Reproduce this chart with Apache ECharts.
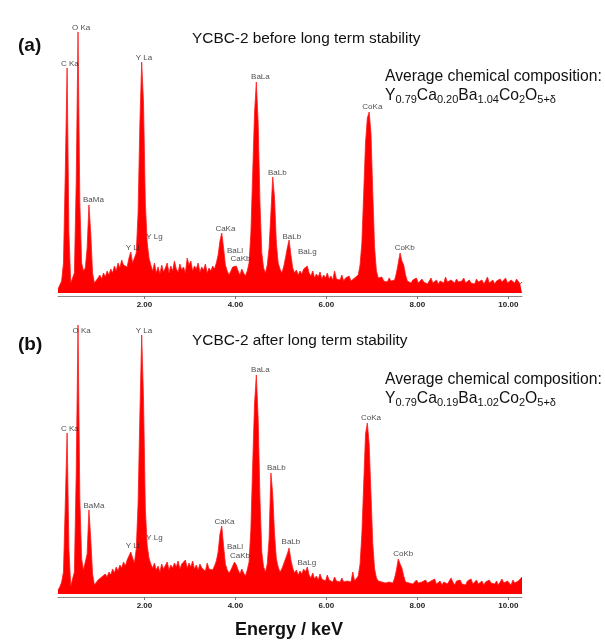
<!DOCTYPE html>
<html>
<head>
<meta charset="utf-8">
<script src="https://cdn.jsdelivr.net/npm/echarts@6/dist/echarts.min.js"></script>
<style>
html,body{margin:0;padding:0;background:#fff;}
#chart{width:605px;height:643px;}
</style>
</head>
<body>
<div id="chart"></div>
<script>
// Energy channels: start and spacing (keV)
const energyStart = 0.1;
const energyStep = 0.04;
const energyMin = 0.1;
const energyMax = 10.3;
const tickValues = [2, 4, 6, 8, 10];

// (a) before long term stability — counts (arbitrary units) per channel
const countsBefore = [
  4, 8, 12, 30, 120, 225, 60, 10, 8, 20,
  110, 261, 90, 30, 22, 25, 45, 88, 60, 20,
  10, 12, 15, 18, 14, 20, 16, 22, 18, 24,
  20, 27, 22, 30, 25, 33, 28, 30, 26, 35,
  41, 30, 28, 40, 80, 170, 231, 190, 90, 51,
  35, 28, 22, 30, 20, 26, 19, 28, 21, 25,
  30, 20, 27, 22, 32, 24, 21, 29, 23, 26,
  20, 35, 28, 32, 22, 27, 24, 30, 21, 26,
  23, 29, 20, 25, 22, 27, 24, 30, 38, 52,
  60, 45, 28, 22, 18, 20, 26, 28, 27, 22,
  18, 24, 20, 17, 22, 30, 60, 120, 180, 211,
  170, 90, 40, 25, 20, 28, 45, 80, 116, 95,
  50, 30, 24, 20, 26, 35, 45, 53, 38, 25,
  20, 23, 18, 22, 19, 24, 22, 27, 20, 17,
  22, 15, 19, 16, 21, 14, 18, 15, 20, 14,
  17, 13, 22, 14, 16, 13, 18, 12, 15, 13,
  17, 12, 14, 15, 13, 18, 28, 50, 100, 150,
  175, 181, 160, 100, 45, 22, 15, 13, 16, 12,
  14, 11, 15, 12, 14, 13, 20, 30, 40, 32,
  28, 18, 12, 14, 10, 13, 11, 15, 10, 12,
  14, 11, 13, 9, 12, 15, 10, 11, 13, 9,
  12, 14, 10, 16, 11, 9, 13, 12, 10, 14,
  11, 9, 12, 15, 10, 11, 13, 10, 12, 9,
  14, 11, 10, 13, 9, 12, 16, 10, 11, 13,
  9, 12, 10, 14, 11, 12, 15, 10, 9, 13,
  11, 10, 14, 12, 9, 11
];

// (b) after long term stability — counts per channel
const countsAfter = [
  4, 7, 12, 22, 90, 161, 45, 8, 10, 22,
  120, 269, 95, 35, 24, 26, 40, 84, 55, 20,
  9, 11, 14, 12, 17, 15, 20, 17, 22, 19,
  25, 21, 27, 23, 29, 26, 32, 28, 34, 38,
  42, 36, 31, 45, 90, 180, 259, 195, 85, 49,
  36, 30, 26, 31, 24, 28, 22, 30, 25, 27,
  32, 24, 29, 26, 31, 27, 33, 25, 30, 28,
  34, 26, 31, 27, 33, 25, 29, 24, 30, 26,
  28, 23, 31, 25, 27, 24, 28, 33, 42, 60,
  68, 48, 30, 24, 21, 24, 28, 32, 29, 24,
  20, 25, 21, 18, 24, 32, 65, 130, 190, 219,
  175, 95, 42, 27, 22, 30, 55, 121, 100, 60,
  35, 27, 22, 25, 30, 32, 40, 46, 34, 26,
  21, 24, 19, 23, 20, 25, 22, 27, 19, 16,
  21, 15, 18, 14, 20, 15, 17, 13, 19, 14,
  16, 12, 17, 13, 15, 12, 16, 12, 14, 13,
  15, 12, 22, 13, 15, 18, 30, 60, 110, 160,
  171, 150, 100, 50, 25, 16, 13, 15, 12, 14,
  11, 13, 12, 14, 11, 16, 24, 35, 30, 26,
  18, 12, 14, 11, 13, 10, 12, 14, 11, 13,
  12, 10, 14, 11, 9, 13, 12, 15, 10, 11,
  13, 9, 12, 14, 10, 11, 16, 12, 9, 13,
  11, 14, 10, 12, 9, 13, 11, 15, 10, 12,
  14, 10, 11, 13, 9, 12, 10, 14, 11, 12,
  10, 13, 9, 12, 15, 11, 10, 13, 12, 9,
  14, 11, 10, 13, 12, 17
];

// Peak labels: [name, energy keV, label height]
const peakLabelsBefore = [
  ['O Ka', 0.61, 265], ['C Ka', 0.36, 229], ['Y La', 1.99, 235], ['BaLa', 4.55, 216],
  ['CoKa', 7.01, 186], ['BaLb', 4.92, 120], ['BaMa', 0.88, 93], ['Y Ll', 1.74, 45],
  ['Y Lg', 2.22, 56], ['CaKa', 3.78, 64], ['BaLl', 3.99, 42], ['CaKb', 4.11, 34],
  ['BaLb', 5.24, 56], ['BaLg', 5.58, 41], ['CoKb', 7.72, 45]
];
const peakLabelsAfter = [
  ['O Ka', 0.62, 263], ['C Ka', 0.36, 165], ['Y La', 1.99, 263], ['BaLa', 4.55, 224],
  ['CoKa', 6.98, 176], ['BaLb', 4.90, 126], ['BaMa', 0.89, 88], ['Y Ll', 1.74, 48],
  ['Y Lg', 2.22, 56], ['CaKa', 3.76, 72], ['BaLl', 3.99, 47], ['CaKb', 4.10, 38],
  ['BaLb', 5.22, 52], ['BaLg', 5.57, 31], ['CoKb', 7.69, 40]
];

const panelTitles = ['YCBC-2 before long term stability', 'YCBC-2 after long term stability'];
const panelTags = ['(a)', '(b)'];
const compositionHeading = 'Average chemical composition:';
const formulaBefore = 'Y{s|0.79}Ca{s|0.20}Ba{s|1.04}Co{s|2}O{s|5+δ}';
const formulaAfter = 'Y{s|0.79}Ca{s|0.19}Ba{s|1.02}Co{s|2}O{s|5+δ}';
const xAxisName = 'Energy / keV';

function toPairs(counts) {
  return counts.map((c, i) => [energyStart + i * energyStep, c]);
}

const FONT = '"Liberation Sans", Arial, sans-serif';
const grids = [
  { left: 58, right: 83, top: 21, height: 275 },
  { left: 58, right: 83, top: 322, height: 275 }
];

function xAxisFor(idx) {
  return {
    gridIndex: idx, type: 'value', min: energyMin, max: energyMax,
    axisLine: { onZero: false, lineStyle: { color: '#8c8c8c', width: 1 } },
    axisTick: { customValues: tickValues, length: 3, lineStyle: { color: '#777' } },
    axisLabel: {
      customValues: tickValues, margin: 5,
      formatter: v => Number(v).toFixed(2),
      fontSize: 8, fontWeight: 'bold', color: '#222', fontFamily: FONT
    },
    splitLine: { show: false }
  };
}
function yAxisFor(idx) {
  return { gridIndex: idx, type: 'value', min: -3, max: 272, show: false, splitLine: { show: false } };
}
function spectrum(idx, counts) {
  return {
    type: 'line', xAxisIndex: idx, yAxisIndex: idx, data: toPairs(counts),
    showSymbol: false, symbol: 'none', smooth: false,
    lineStyle: { color: '#ff1a1a', width: 0.8 },
    areaStyle: { color: '#ff0000', opacity: 1 },
    silent: true, z: 2
  };
}
function labelSeries(idx, labels) {
  return {
    type: 'scatter', xAxisIndex: idx, yAxisIndex: idx,
    data: labels.map(l => ({ value: [l[1], l[2]], name: l[0] })),
    symbolSize: 1, itemStyle: { color: 'rgba(0,0,0,0)' },
    label: {
      show: true, position: 'inside', formatter: p => p.name,
      fontSize: 8, color: '#222', fontFamily: FONT, fontWeight: 'normal'
    },
    silent: true, z: 5
  };
}

const richFormula = {
  fontSize: 15.7, fontFamily: FONT, fontWeight: 'normal', color: '#111', lineHeight: 18, verticalAlign: 'bottom',
  rich: { s: { fontSize: 11, fontFamily: FONT, fontWeight: 'normal', color: '#111', lineHeight: 8, verticalAlign: 'bottom' } }
};

const titles = [
  { text: panelTags[0], left: 18, top: 36, padding: 0, textStyle: { fontSize: 19, fontWeight: 'bold', fontFamily: FONT, color: '#111' } },
  { text: panelTitles[0], left: 192, top: 31, padding: 0, textStyle: { fontSize: 15.4, fontWeight: 'normal', fontFamily: FONT, color: '#111' } },
  { text: compositionHeading, left: 385, top: 69, padding: 0, textStyle: { fontSize: 15.7, fontWeight: 'normal', fontFamily: FONT, color: '#111' } },
  { text: formulaBefore, left: 385, top: 87, padding: 0, textStyle: richFormula },
  { text: panelTags[1], left: 18, top: 335, padding: 0, textStyle: { fontSize: 19, fontWeight: 'bold', fontFamily: FONT, color: '#111' } },
  { text: panelTitles[1], left: 192, top: 333, padding: 0, textStyle: { fontSize: 15.4, fontWeight: 'normal', fontFamily: FONT, color: '#111' } },
  { text: compositionHeading, left: 385, top: 372, padding: 0, textStyle: { fontSize: 15.7, fontWeight: 'normal', fontFamily: FONT, color: '#111' } },
  { text: formulaAfter, left: 385, top: 390, padding: 0, textStyle: richFormula },
  { text: xAxisName, left: 235, top: 621, padding: 0, textStyle: { fontSize: 18, fontWeight: 'bold', fontFamily: FONT, color: '#111' } }
];

const chart = echarts.init(document.getElementById('chart'), null, { renderer: 'canvas' });
chart.setOption({
  animation: false,
  backgroundColor: '#ffffff',
  title: titles,
  grid: grids,
  xAxis: [xAxisFor(0), xAxisFor(1)],
  yAxis: [yAxisFor(0), yAxisFor(1)],
  series: [
    spectrum(0, countsBefore), spectrum(1, countsAfter),
    labelSeries(0, peakLabelsBefore), labelSeries(1, peakLabelsAfter)
  ]
});
</script>
</body>
</html>
